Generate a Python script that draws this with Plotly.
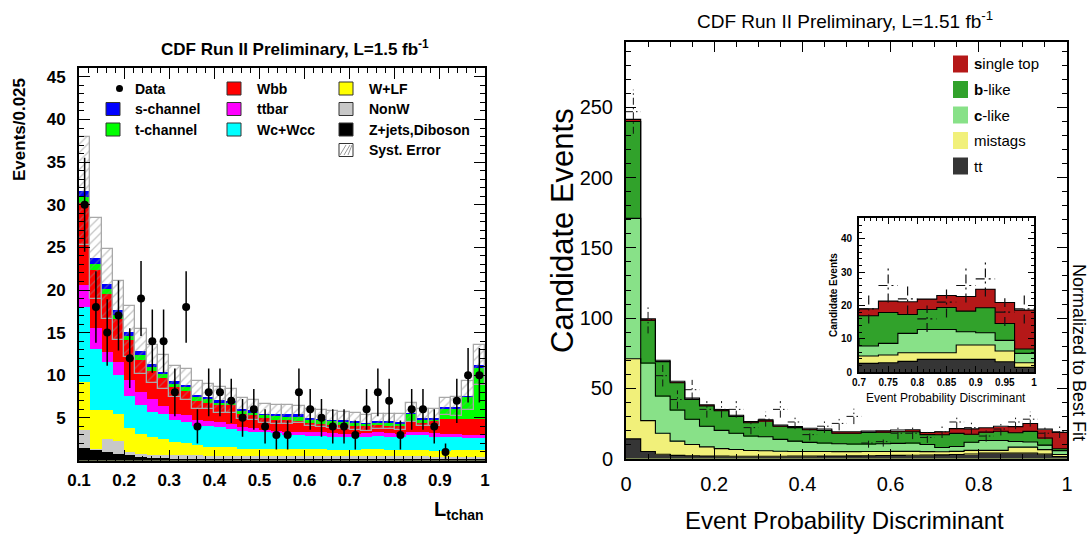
import numpy as np
import plotly.graph_objects as go

W, H = 1090, 539
def px(x): return x / W
def py(y): return 1 - y / H

# ---------------- Left panel: L_tchan (36 bins of 0.025 from 0.1) ----------------
left_lo, left_bw = 0.1, 0.025
# cumulative tops of each stacked layer (bottom to top)
left_zjets_top = [1.5, 1.2, 1.0, 0.8, 0.6, 0.4, 0.3, 0.3, 0.2, 0.2, 0.2, 0.2, 0.15, 0.15, 0.15, 0.15, 0.1, 0.1,
                  0.1, 0.1, 0.1, 0.1, 0.1, 0.1, 0.1, 0.1, 0.1, 0.1, 0.1, 0.1, 0.1, 0.1, 0.1, 0.1, 0.1, 0.1]
left_nonw_top = [3.6, 1.4, 2.5, 2.3, 1.0, 0.8, 0.7, 0.7, 0.6, 0.6, 0.6, 0.5, 0.5, 0.5, 0.5, 0.5, 0.5, 0.5,
                 0.5, 0.5, 0.5, 0.5, 0.5, 0.5, 0.5, 0.5, 0.5, 0.5, 0.5, 0.5, 0.5, 0.4, 0.4, 0.4, 0.4, 0.4]
left_wlf_top = [9.2, 5.9, 5.9, 5.5, 3.8, 3.1, 2.7, 2.5, 2.2, 2.0, 1.8, 1.6, 1.6, 1.6, 1.4, 1.4, 1.4, 1.4,
                1.3, 1.3, 1.3, 1.3, 1.2, 1.2, 1.2, 1.3, 1.3, 1.2, 1.2, 1.2, 1.2, 1.1, 1.1, 1.2, 1.2, 1.2]
left_wc_top = [18.0, 13.1, 11.5, 10.0, 7.6, 6.5, 5.7, 5.5, 4.7, 4.5, 4.1, 4.0, 3.9, 3.7, 3.5, 3.4, 3.3, 3.2,
               3.0, 3.0, 2.9, 2.9, 2.8, 2.7, 2.7, 2.8, 2.9, 2.8, 2.7, 3.0, 3.0, 2.8, 2.7, 2.7, 2.6, 2.6]
left_ttbar_top = [20.6, 15.5, 12.7, 11.5, 9.4, 8.0, 7.2, 6.4, 5.5, 5.3, 4.7, 4.6, 4.5, 4.3, 3.9, 3.8, 3.6, 3.5,
                  3.4, 3.4, 3.3, 3.3, 3.2, 3.1, 3.1, 3.2, 3.3, 3.2, 3.1, 3.4, 3.4, 3.2, 3.1, 3.1, 3.0, 3.0]
left_wbb_top = [30.2, 22.3, 19.5, 16.6, 14.1, 11.8, 10.5, 9.7, 8.6, 8.2, 7.0, 6.8, 6.5, 6.5, 5.5, 5.3, 5.0, 4.8,
                4.7, 4.6, 4.4, 4.3, 4.2, 4.2, 4.1, 4.1, 4.2, 4.1, 4.1, 4.5, 4.4, 4.6, 4.9, 4.9, 4.9, 4.9]
left_tchan_top = [30.9, 23.1, 20.1, 17.1, 14.6, 12.4, 11.0, 10.1, 9.0, 8.6, 7.4, 7.2, 6.8, 6.8, 5.8, 5.6, 5.3, 5.2,
                  5.1, 5.1, 4.8, 4.7, 4.6, 4.5, 4.4, 4.3, 4.4, 4.4, 4.3, 5.4, 4.8, 4.8, 6.1, 6.1, 7.4, 10.9]
left_schan_top = [31.6, 23.7, 20.7, 17.6, 15.1, 12.8, 11.3, 10.4, 9.3, 8.9, 7.7, 7.5, 7.1, 7.0, 6.1, 5.9, 5.5, 5.4,
                  5.4, 5.4, 5.0, 4.9, 4.8, 4.7, 4.6, 4.4, 4.6, 4.6, 4.5, 5.6, 5.0, 5.0, 6.3, 6.3, 7.6, 11.2]
left_syst = [6.3, 4.7, 4.1, 3.5, 3.0, 2.6, 2.2, 2.0, 1.8, 1.8, 1.6, 1.5, 1.5, 1.4, 1.2, 1.2, 1.1, 1.1,
             1.1, 1.0, 1.0, 1.0, 1.0, 1.0, 1.0, 0.9, 0.9, 0.9, 0.9, 1.1, 1.0, 1.0, 1.0, 1.1, 1.7, 2.3]
left_data = [30, 18, 15, 17, 12, 19, 14, 14, 8, 18, 4, 8, 8, 7, 5, 6, 4, 3,
             3, 8, 6, 5, 4, 4, 3, 6, 8, 7, 3, 6, 6, 4, 1, 7, 10, 10]
left_data_err = [5.5, 4.2, 3.9, 4.1, 3.5, 4.4, 3.7, 3.7, 2.8, 4.2, 2.0, 2.8, 2.8, 2.6, 2.2, 2.4, 2.0, 1.7,
                 1.7, 2.8, 2.4, 2.2, 2.0, 2.0, 1.7, 2.4, 2.8, 2.6, 1.7, 2.4, 2.4, 2.0, 1.0, 2.6, 3.2, 3.2]
left_xticks = [0.1, 0.2, 0.3, 0.4, 0.5, 0.6, 0.7, 0.8, 0.9, 1.0]
left_xtick_text = ["0.1", "0.2", "0.3", "0.4", "0.5", "0.6", "0.7", "0.8", "0.9", "1"]
left_yticks = [5, 10, 15, 20, 25, 30, 35, 40, 45]

# ---------------- Right panel: Event Probability Discriminant (30 bins) ----------------
right_lo, right_bw = 0.0, 1.0 / 30
right_tt_top = [14, 5, 3, 2.2, 2.0, 1.8, 1.7, 1.6, 1.6, 1.6, 1.6, 1.7, 1.7, 1.8, 1.8,
                1.9, 2.0, 2.1, 2.2, 2.3, 2.4, 2.6, 2.8, 3.2, 3.8, 3.8, 3.8, 3.8, 3.1, 1.4]
right_mistag_top = [71, 27, 18, 12.4, 10, 8.3, 7.0, 6.4, 5.7, 5.5, 5.2, 5.0, 5.0, 5.0, 4.9,
                    4.9, 5.0, 5.0, 5.1, 5.1, 4.9, 4.8, 5.1, 5.8, 5.8, 5.8, 8.1, 8.1, 6.3, 2.8]
right_clike_top = [171, 68, 44.5, 34.5, 28, 23, 20, 18, 16, 15.5, 13.6, 12.4, 11.5, 11.0, 10.5,
                   10.3, 10.3, 10.5, 10.8, 11.0, 10.0, 7.8, 8.6, 11.6, 12.8, 12.8, 12.1, 11.8, 9.5, 5.6]
right_blike_top = [240, 98.5, 69, 54, 42, 37.4, 34, 30, 25.5, 26.7, 23, 22, 20.5, 20, 18,
                   18, 18.5, 18.8, 19, 19, 17.0, 16.9, 17.9, 17.3, 18.8, 19.4, 18.3, 19.3, 14.6, 6.9]
right_stop_top = [241.5, 99.5, 70, 55, 43, 38.2, 34.8, 30.8, 26.3, 27.5, 23.8, 22.8, 21.5, 21.0, 19.0,
                  19.0, 19.5, 19.8, 20.3, 20.5, 18.5, 19.0, 21.3, 21.1, 21.9, 23.0, 22.7, 24.9, 20.9, 18.6]
right_data = [247, 99, 59, 42, 49, 35, 35, 35, 22, 28, 35, 26, 17, 23, 25,
              30, 11, 12, 18, 18, 15, 19, 26, 22, 16, 21, 26, 28, 18, 19]
right_data_err = [15.7, 9.9, 7.7, 6.5, 7.0, 5.9, 5.9, 5.9, 4.7, 5.3, 5.9, 5.1, 4.1, 4.8, 5.0,
                  5.5, 3.3, 3.5, 4.2, 4.2, 3.9, 4.4, 5.1, 4.7, 4.0, 4.6, 5.1, 5.3, 4.2, 4.4]
right_xticks = [0, 0.2, 0.4, 0.6, 0.8, 1.0]
right_xtick_text = ["0", "0.2", "0.4", "0.6", "0.8", "1"]
inset_xticks = [0.7, 0.75, 0.8, 0.85, 0.9, 0.95, 1.0]
inset_xtick_text = ["0.7", "0.75", "0.8", "0.85", "0.9", "0.95", "1"]

for arr in [left_zjets_top, left_nonw_top, left_wlf_top, left_wc_top, left_ttbar_top, left_wbb_top,
            left_tchan_top, left_schan_top, left_syst, left_data, left_data_err]:
    assert len(arr) == 36, len(arr)
for arr in [right_tt_top, right_mistag_top, right_clike_top, right_blike_top, right_stop_top,
            right_data, right_data_err]:
    assert len(arr) == 30, len(arr)

FONT = "Liberation Sans"
NARROW = "Liberation Sans Narrow, Liberation Sans"

fig = go.Figure()

def centers(lo, w, n):
    return lo + w * (np.arange(n) + 0.5)

# ---- left stacked histogram (draw tallest layer first, overlay) ----
lc = centers(left_lo, left_bw, 36)
left_layers = [
    (left_schan_top, "#0000ff"),
    (left_tchan_top, "#00ff00"),
    (left_wbb_top, "#ff0000"),
    (left_ttbar_top, "#ff00ff"),
    (left_wc_top, "#00ffff"),
    (left_wlf_top, "#ffff00"),
    (left_nonw_top, "#c8c8c8"),
    (left_zjets_top, "#000000"),
]
for tops, col in left_layers:
    fig.add_trace(go.Bar(x=lc, y=tops, width=left_bw, marker=dict(color=col, line=dict(width=0)),
                         xaxis="x", yaxis="y", hoverinfo="skip"))
# systematic error hatched boxes
schan = np.array(left_schan_top)
syst = np.array(left_syst)
fig.add_trace(go.Bar(x=lc, y=2 * syst, base=schan - syst, width=left_bw,
                     marker=dict(color="rgba(0,0,0,0)",
                                 line=dict(color="#a8a8a8", width=1.3),
                                 pattern=dict(shape="/", fgcolor="#8c8c8c", bgcolor="rgba(0,0,0,0)",
                                              size=6, solidity=0.22, fillmode="overlay")),
                     xaxis="x", yaxis="y", hoverinfo="skip"))
# data points
fig.add_trace(go.Scatter(x=lc, y=left_data, mode="markers",
                         marker=dict(color="black", size=8),
                         error_y=dict(type="data", array=left_data_err, color="black", thickness=1.5, width=0),
                         xaxis="x", yaxis="y", hoverinfo="skip"))

# ---- right stacked histogram ----
rc = centers(right_lo, right_bw, 30)
right_layers = [
    (right_stop_top, "#b51818"),
    (right_blike_top, "#31a22b"),
    (right_clike_top, "#88e188"),
    (right_mistag_top, "#f1f07a"),
    (right_tt_top, "#353535"),
]

def step_xy(lo, w, tops):
    xs = lo + w * np.arange(len(tops) + 1)
    ys = list(tops) + [tops[-1]]
    return xs, ys

def cross_xy(lo, w, vals, errs):
    xs, ys = [], []
    for i, (v, e) in enumerate(zip(vals, errs)):
        a = lo + w * i
        b = a + w
        c = a + w / 2
        xs += [a, b, None, c, c, None]
        ys += [v, v, None, v - e, v + e, None]
    return xs, ys

for xa, ya, lw, dash in [("x2", "y2", 1.0, "7px,3px,1.5px,3px"), ("x3", "y3", 1.2, "9px,4px,2px,4px")]:
    for tops, col in right_layers:
        fig.add_trace(go.Bar(x=rc, y=tops, width=right_bw, marker=dict(color=col, line=dict(width=0)),
                             xaxis=xa, yaxis=ya, hoverinfo="skip"))
    for tops, col in right_layers[::-1]:
        sx, sy = step_xy(right_lo, right_bw, tops)
        fig.add_trace(go.Scatter(x=sx, y=sy, mode="lines", line=dict(color="black", width=1.1, shape="hv"),
                                 xaxis=xa, yaxis=ya, hoverinfo="skip"))
    cx, cy = cross_xy(right_lo, right_bw, right_data, right_data_err)
    fig.add_trace(go.Scatter(x=cx, y=cy, mode="lines", line=dict(color="#111111", width=lw, dash=dash),
                             xaxis=xa, yaxis=ya, hoverinfo="skip"))

axis_base = dict(showline=True, linecolor="black", mirror="allticks", ticks="inside", tickcolor="black",
                 showgrid=False, zeroline=False, fixedrange=True, automargin=False)

fig.update_layout(
    width=W, height=H, margin=dict(l=0, r=0, t=0, b=0, pad=0, autoexpand=False),
    paper_bgcolor="white", plot_bgcolor="white",
    barmode="overlay", bargap=0, showlegend=False,
    xaxis=dict(axis_base, domain=[px(79), px(485)], range=[0.1, 1.0], anchor="y",
               tickvals=left_xticks, ticktext=left_xtick_text, ticklen=11, tickwidth=1.2, linewidth=2,
               minor=dict(tickmode="linear", tick0=0.1, dtick=0.02, ticklen=5, ticks="inside", tickcolor="black"),
               tickfont=dict(family=FONT, size=17, color="black", weight="bold"), ticklabelstandoff=3),
    yaxis=dict(axis_base, domain=[py(460.5), py(68)], range=[0, 46.04], anchor="x",
               tickvals=left_yticks, ticklen=11, tickwidth=1.2, linewidth=2,
               minor=dict(tickmode="linear", tick0=0, dtick=1, ticklen=5, ticks="inside", tickcolor="black"),
               tickfont=dict(family=FONT, size=17, color="black", weight="bold"), ticklabelstandoff=8),
    xaxis2=dict(axis_base, domain=[px(626), px(1067)], range=[0, 1], anchor="y2",
                tickvals=right_xticks, ticktext=right_xtick_text, ticklen=10, linewidth=2,
                minor=dict(tickmode="linear", tick0=0, dtick=0.05, ticklen=5, ticks="inside", tickcolor="black"),
                tickfont=dict(family=FONT, size=20, color="black"), ticklabelstandoff=6),
    yaxis2=dict(axis_base, domain=[py(458.5), py(41.5)], range=[0, 297], anchor="x2",
                tick0=0, dtick=50, ticklen=10, linewidth=2,
                minor=dict(tickmode="linear", tick0=0, dtick=10, ticklen=5, ticks="inside", tickcolor="black"),
                tickfont=dict(family=FONT, size=20, color="black"), ticklabelstandoff=7),
    xaxis3=dict(axis_base, domain=[px(859), px(1034)], range=[0.7, 1.0], anchor="y3",
                tickvals=inset_xticks, ticktext=inset_xtick_text, ticklen=6, linewidth=2,
                minor=dict(tickmode="linear", tick0=0.7, dtick=0.01, ticklen=3, ticks="inside", tickcolor="black"),
                tickfont=dict(family=NARROW, size=10, color="black", weight="bold"), ticklabelstandoff=0),
    yaxis3=dict(axis_base, domain=[py(372), py(218)], range=[0, 46.3], anchor="x3",
                tick0=0, dtick=10, ticklen=6, linewidth=2,
                minor=dict(tickmode="linear", tick0=0, dtick=2, ticklen=3, ticks="inside", tickcolor="black"),
                tickfont=dict(family=NARROW, size=10, color="black", weight="bold"), ticklabelstandoff=3),
)

ann = []
shapes = []

def text(x, y, s, size, bold=False, xanchor="center", yanchor="middle", angle=0, family=FONT):
    ann.append(dict(xref="paper", yref="paper", x=px(x), y=py(y), text=s, showarrow=False,
                    xanchor=xanchor, yanchor=yanchor, textangle=angle,
                    font=dict(family=family, size=size, color="black", weight="bold" if bold else "normal")))

# titles
text(295, 48, "CDF Run II Preliminary, L=1.5 fb<sup>-1</sup>", 17, bold=True)
text(845, 20, "CDF Run II Preliminary, L=1.51 fb<sup>-1</sup>", 19)
text(19, 130, "Events/0.025", 17, bold=True, angle=-90)
text(486, 510, "L<sub>tchan</sub>", 20, bold=True, xanchor="right")
text(562, 231, "Candidate Events", 31, angle=-90)
text(844, 520, "Event Probability Discriminant", 24)
text(1079, 352, "Normalized to Best Fit", 18, angle=90)
text(833, 295, "Candidate Events", 10, bold=True, angle=-90, family=NARROW)
text(946, 398, "Event Probability Discriminant", 12, family=NARROW)

# left legend (three columns)
rows = [88.5, 109, 129.5, 150]
cols_sw = [106, 227, 339]
cols_tx = [133, 255, 367]
left_legend = [
    (0, 0, "Data", None), (0, 1, "s-channel", "#0000ff"), (0, 2, "t-channel", "#00ff00"),
    (1, 0, "Wbb", "#ff0000"), (1, 1, "ttbar", "#ff00ff"), (1, 2, "Wc+Wcc", "#00ffff"),
    (2, 0, "W+LF", "#ffff00"), (2, 1, "NonW", "#c8c8c8"), (2, 2, "Z+jets,Diboson", "#000000"),
    (2, 3, "Syst. Error", "hatch"),
]
for c, r, lab, col in left_legend:
    yc = rows[r]
    x0 = cols_sw[c]
    if col is None:
        shapes.append(dict(type="circle", xref="paper", yref="paper", x0=px(x0 + 10), x1=px(x0 + 17),
                           y0=py(yc + 3.5), y1=py(yc - 3.5), fillcolor="black", line=dict(width=0)))
    elif col == "hatch":
        shapes.append(dict(type="rect", xref="paper", yref="paper", x0=px(x0), x1=px(x0 + 14),
                           y0=py(yc + 6.5), y1=py(yc - 6.5), fillcolor="white", line=dict(color="#333", width=1)))
        for k in range(3):
            a = x0 + 1 + 4 * k
            shapes.append(dict(type="line", xref="paper", yref="paper", x0=px(a), x1=px(min(a + 6, x0 + 13)),
                               y0=py(yc + 5), y1=py(yc - 5), line=dict(color="#999", width=1)))
    else:
        shapes.append(dict(type="rect", xref="paper", yref="paper", x0=px(x0), x1=px(x0 + 14),
                           y0=py(yc + 6.5), y1=py(yc - 6.5), fillcolor=col, line=dict(color="#333", width=1)))
    text(cols_tx[c], yc, lab, 14, bold=True, xanchor="left")

# right legend
right_legend = [("<b>s</b>ingle top", "#b51818"), ("<b>b</b>-like", "#31a22b"), ("<b>c</b>-like", "#88e188"),
                ("mistags", "#f1f07a"), ("tt", "#353535")]
for i, (lab, col) in enumerate(right_legend):
    yc = 64 + 25.5 * i
    shapes.append(dict(type="rect", xref="paper", yref="paper", x0=px(953), x1=px(968),
                       y0=py(yc + 8.5), y1=py(yc - 8.5), fillcolor=col, line=dict(width=0)))
    text(972, yc, lab, 15, xanchor="left")

fig.update_layout(annotations=ann, shapes=shapes)
fig.write_html("out.html")
